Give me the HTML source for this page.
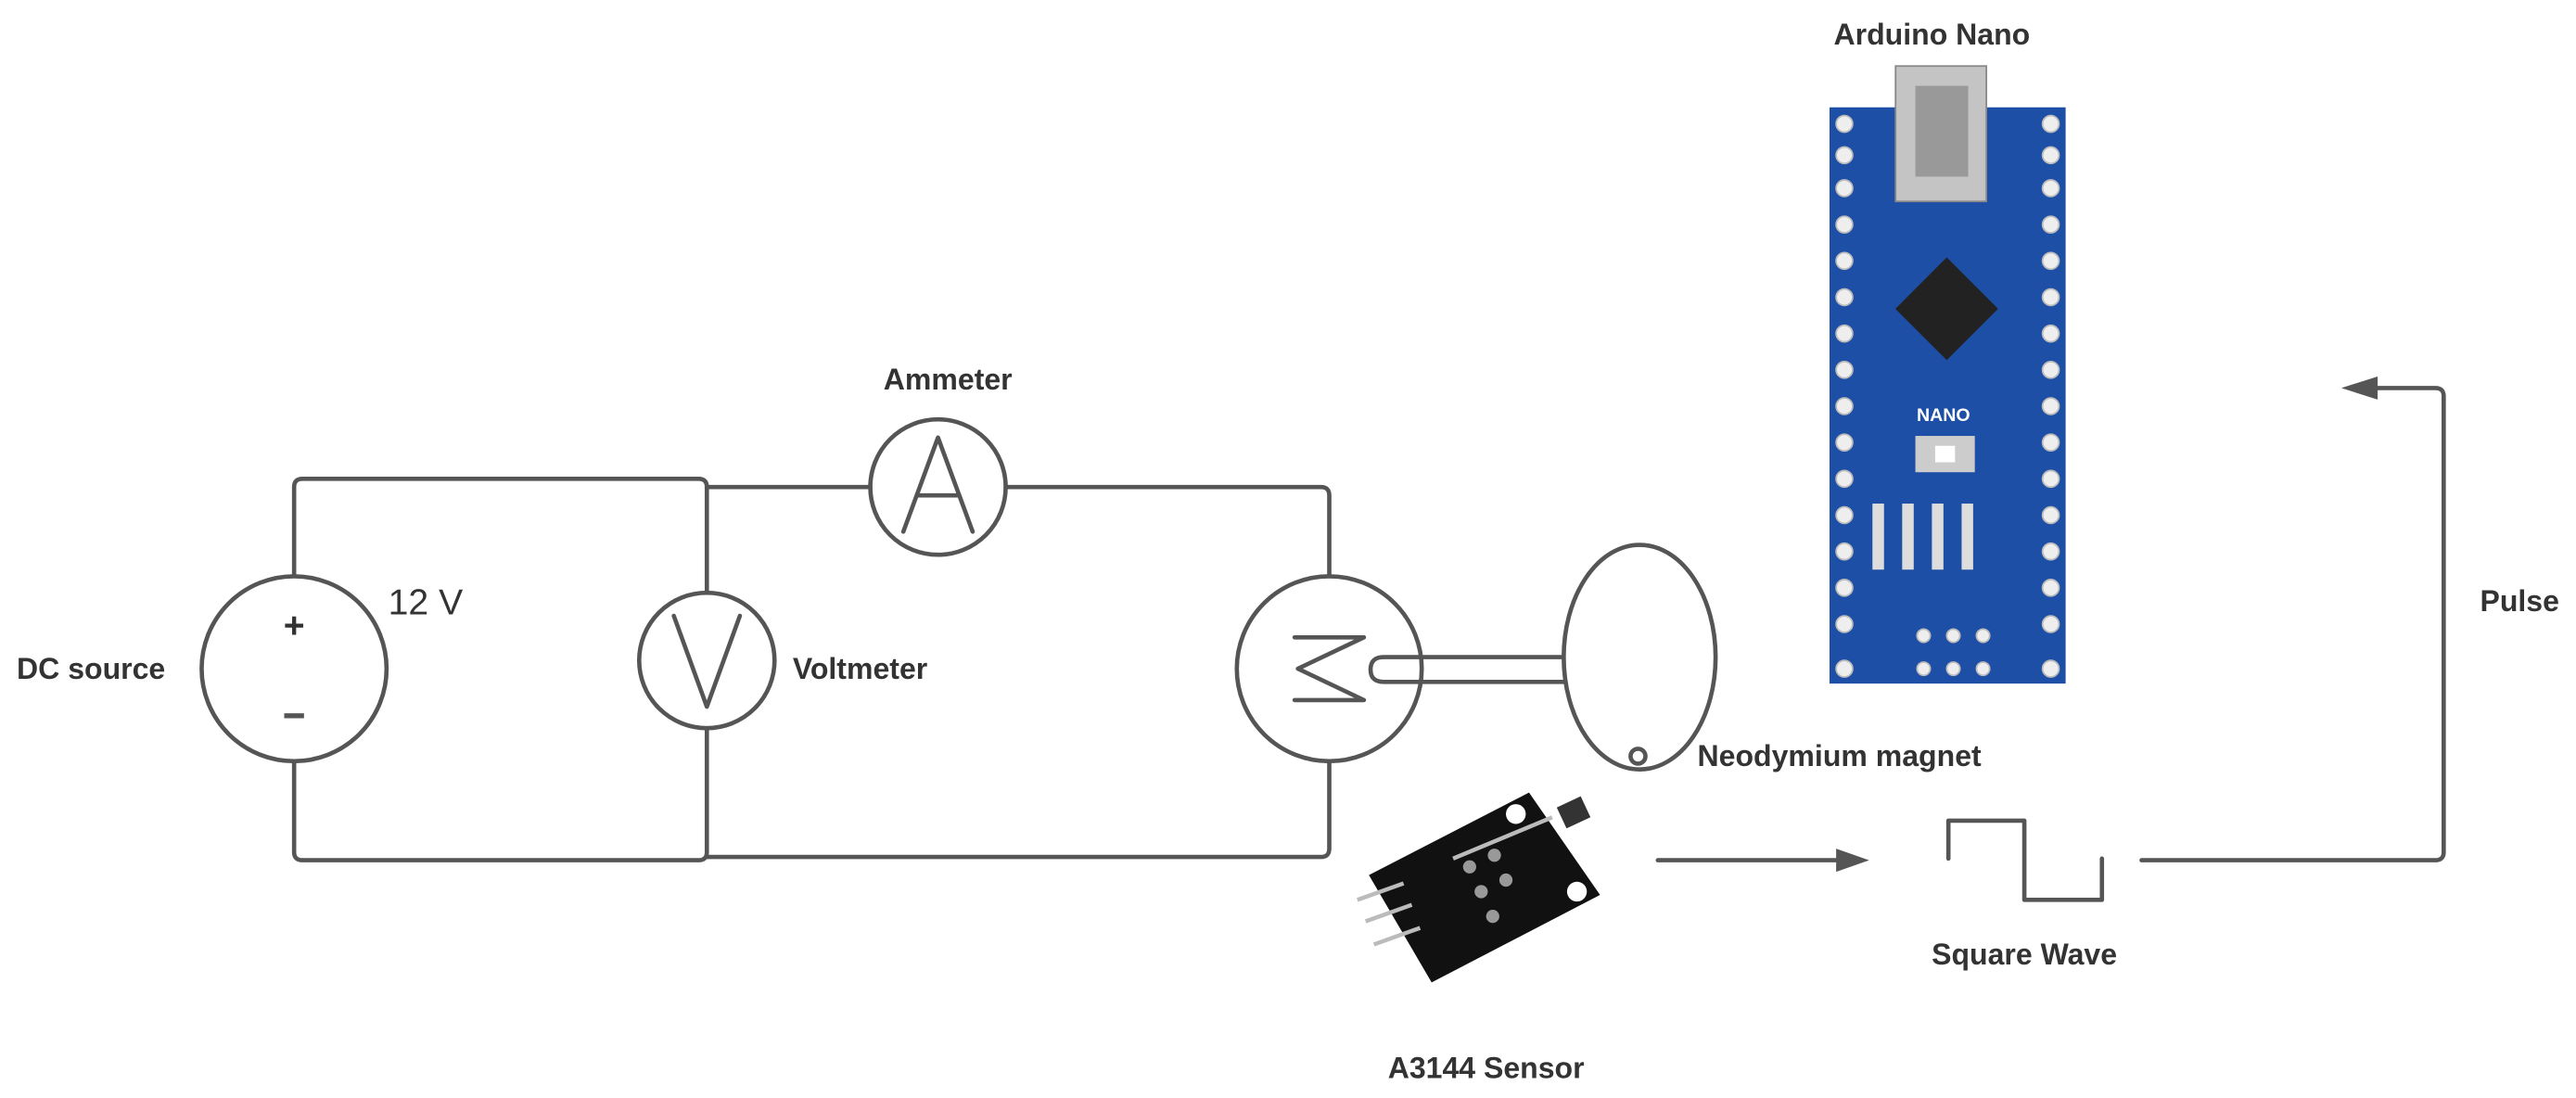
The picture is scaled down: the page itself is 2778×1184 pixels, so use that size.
<!DOCTYPE html>
<html><head><meta charset="utf-8"><style>
html,body{margin:0;padding:0;background:#fff;}
svg{display:block;}
text{font-family:"Liberation Sans",sans-serif;fill:#333;}
.b{font-weight:bold;font-size:18px;}
</style></head><body>
<svg width="2778" height="1184" viewBox="0 0 1560 665" xmlns="http://www.w3.org/2000/svg">
<g fill="none" stroke="#555" stroke-width="2.6" stroke-linejoin="round" stroke-linecap="round">
<path d="M178 348 V295 Q178 290 183 290 H423 Q428 290 428 295 V359"/>
<path d="M178 462 V516 Q178 521 183 521 H423 Q428 521 428 516 V441"/>
<path d="M428 295 H527"/>
<path d="M609 295 H800 Q805 295 805 300 V349"/>
<path d="M428 519 H800 Q805 519 805 514 V461"/>
<circle cx="178" cy="405" r="56"/>
<circle cx="428" cy="400" r="41"/>
<circle cx="568" cy="295" r="41"/>
<circle cx="805" cy="405" r="56"/>
<path d="M547 322 L568 265 L589 322 M556 300 H580"/>
<path d="M408 373 L428 428 L448 373"/>
<path d="M784 386 H826 L786 405 L826 424 H784"/>
<path d="M947 398 H838 Q830 398 830 405.5 Q830 413 838 413 H947"/>
<ellipse cx="993" cy="398" rx="46" ry="68"/>
<circle cx="992" cy="458" r="4.5"/>
<path d="M1004 521 H1118"/>
<path d="M1180 520 V497 H1226 V545 H1273 V520"/>
<path d="M1297 521 H1475 Q1480 521 1480 516 V240 Q1480 235 1475 235 H1432"/>
</g>
<polygon points="1132,521 1112,514 1112,528" fill="#555"/>
<polygon points="1418,235 1440,228 1440,242" fill="#555"/>
<text x="178" y="386" font-size="22" font-weight="bold" text-anchor="middle">+</text>
<rect x="172" y="432" width="12" height="3" fill="#555"/>
<text x="235" y="372" font-size="22">12 V</text>
<text class="b" x="10" y="411">DC source</text>
<text class="b" x="480" y="411">Voltmeter</text>
<text class="b" x="574" y="236" text-anchor="middle">Ammeter</text>
<text class="b" x="1028" y="464">Neodymium magnet</text>
<text class="b" x="900" y="653" text-anchor="middle">A3144 Sensor</text>
<text class="b" x="1226" y="584" text-anchor="middle">Square Wave</text>
<text class="b" x="1502" y="370">Pulse</text>
<text class="b" x="1170" y="27" text-anchor="middle">Arduino Nano</text>
<rect x="1108" y="65" width="143" height="349" fill="#1d4fa6"/>
<rect x="1148" y="40" width="55" height="82" fill="#c4c4c4" stroke="#888"/>
<rect x="1160" y="52" width="32" height="55" fill="#999"/>
<g fill="#eee" stroke="#bbb" stroke-width="1">
<circle cx="1117" cy="75" r="5"/><circle cx="1117" cy="94" r="5"/><circle cx="1117" cy="114" r="5"/><circle cx="1117" cy="136" r="5"/><circle cx="1117" cy="158" r="5"/><circle cx="1117" cy="180" r="5"/><circle cx="1117" cy="202" r="5"/><circle cx="1117" cy="224" r="5"/><circle cx="1117" cy="246" r="5"/><circle cx="1117" cy="268" r="5"/><circle cx="1117" cy="290" r="5"/><circle cx="1117" cy="312" r="5"/><circle cx="1117" cy="334" r="5"/><circle cx="1117" cy="356" r="5"/><circle cx="1117" cy="378" r="5"/><circle cx="1117" cy="405" r="5"/>
<circle cx="1242" cy="75" r="5"/><circle cx="1242" cy="94" r="5"/><circle cx="1242" cy="114" r="5"/><circle cx="1242" cy="136" r="5"/><circle cx="1242" cy="158" r="5"/><circle cx="1242" cy="180" r="5"/><circle cx="1242" cy="202" r="5"/><circle cx="1242" cy="224" r="5"/><circle cx="1242" cy="246" r="5"/><circle cx="1242" cy="268" r="5"/><circle cx="1242" cy="290" r="5"/><circle cx="1242" cy="312" r="5"/><circle cx="1242" cy="334" r="5"/><circle cx="1242" cy="356" r="5"/><circle cx="1242" cy="378" r="5"/><circle cx="1242" cy="405" r="5"/>
<circle cx="1165" cy="385" r="4"/><circle cx="1183" cy="385" r="4"/><circle cx="1201" cy="385" r="4"/>
<circle cx="1165" cy="405" r="4"/><circle cx="1183" cy="405" r="4"/><circle cx="1201" cy="405" r="4"/>
</g>
<rect x="1157" y="165" width="44" height="44" fill="#222" transform="rotate(45 1179 187)"/>
<text x="1177" y="255" font-size="11" font-weight="bold" text-anchor="middle" style="fill:#fff">NANO</text>
<rect x="1160" y="264" width="36" height="22" fill="#ccc"/>
<rect x="1172" y="270" width="12" height="10" fill="#fff"/>
<g fill="#ddd"><rect x="1134" y="305" width="7" height="40"/><rect x="1152" y="305" width="7" height="40"/><rect x="1170" y="305" width="7" height="40"/><rect x="1188" y="305" width="7" height="40"/></g>
<polygon points="926,480 969,542 867,595 829,530" fill="#111"/>
<g stroke="#bbb" stroke-width="2.5"><line x1="822" y1="545" x2="850" y2="535"/><line x1="827" y1="558" x2="855" y2="548"/><line x1="832" y1="572" x2="860" y2="562"/><line x1="880" y1="520" x2="940" y2="495"/></g>
<rect x="945" y="485" width="16" height="14" fill="#333" transform="rotate(-25 953 492)"/>
<g fill="#999"><circle cx="890" cy="525" r="4"/><circle cx="905" cy="518" r="4"/><circle cx="897" cy="540" r="4"/><circle cx="912" cy="533" r="4"/><circle cx="904" cy="555" r="4"/></g>
<circle cx="955" cy="540" r="6" fill="#fff"/>
<circle cx="918" cy="493" r="6" fill="#fff"/>
</svg>
</body></html>
